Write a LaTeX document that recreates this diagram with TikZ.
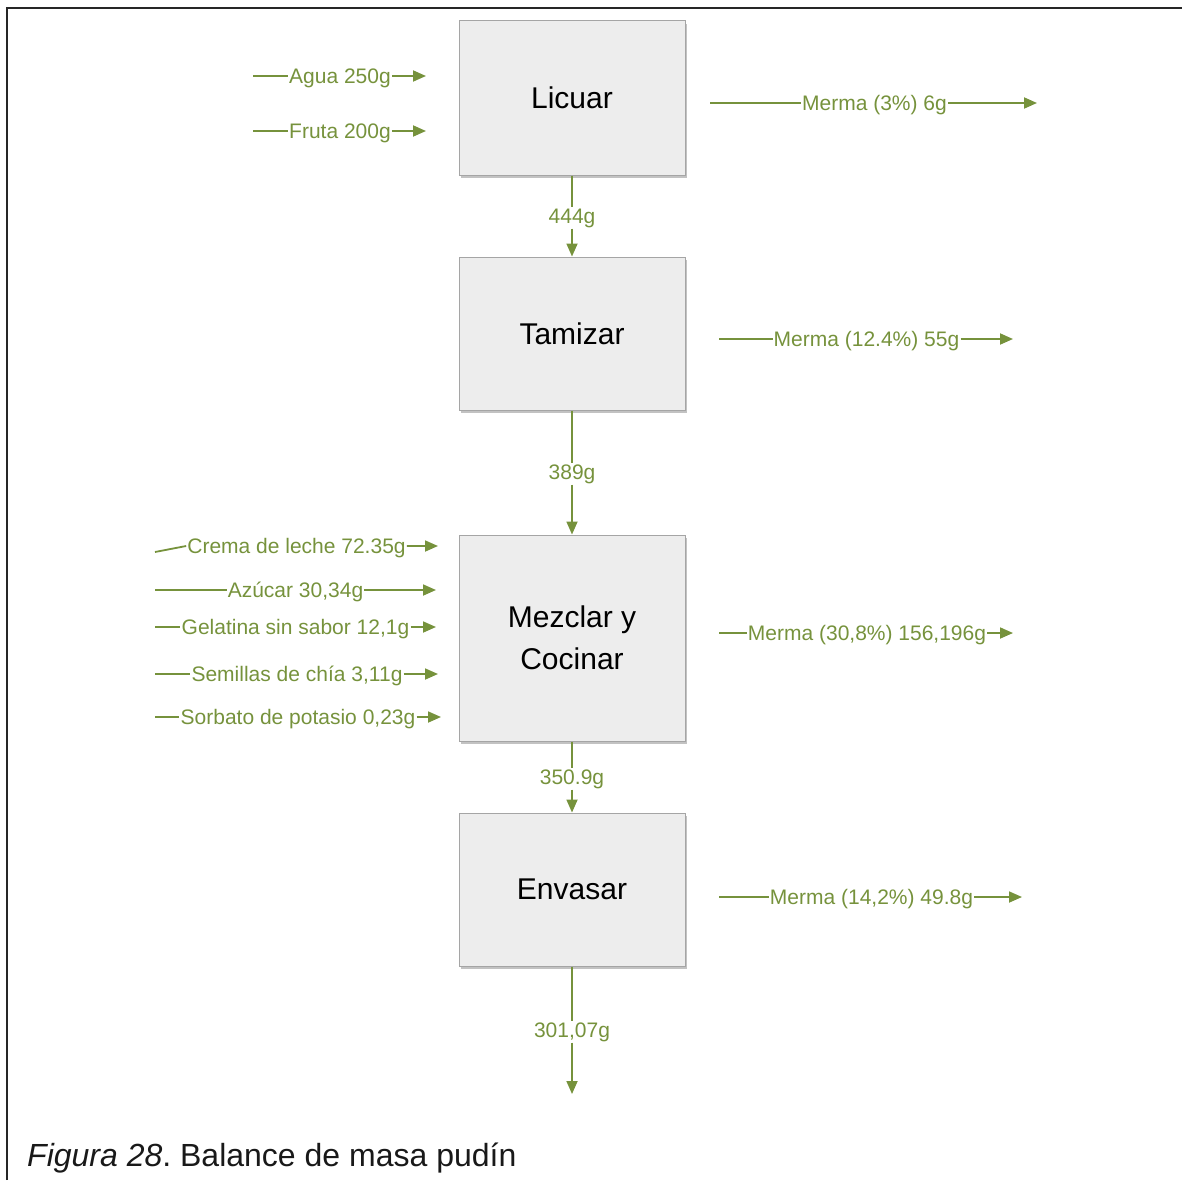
\documentclass[tikz,border=0pt]{standalone}
\usepackage{fontspec}
\setmainfont{Liberation Sans}
\frenchspacing
\usetikzlibrary{arrows.meta,shadows}
\definecolor{flowgreen}{RGB}{118,146,60}
\definecolor{boxfill}{RGB}{237,237,237}
\definecolor{boxline}{RGB}{165,165,165}
\tikzset{
  stepbox/.style={draw=boxline, line width=1pt, fill=boxfill, minimum width=226pt,
    font=\fontsize{30}{42}\selectfont, align=center, inner sep=0pt,
    drop shadow={shadow xshift=1.5pt, shadow yshift=-3pt, fill=black!40, opacity=0.6}},
  flow/.style={draw=flowgreen, line width=1.8pt, -{Triangle[length=13pt,width=11pt]}},
  qty/.style={text=flowgreen, font=\fontsize{21}{24}\selectfont, inner sep=1pt}
}
\begin{document}
\begin{tikzpicture}[x=1pt,y=-1pt]
\useasboundingbox (0,0) rectangle (1182,1180);
% frame
\draw[line width=2pt, black!85] (7,1180) -- (7,8) -- (1182,8);

% process steps
\node[stepbox, minimum height=154pt] (licuar) at (572,98) {Licuar};
\node[stepbox, minimum height=153pt] (tamizar) at (572,333.5) {Tamizar};
\node[stepbox, minimum height=206pt] (mezclar) at (572,638) {Mezclar y\\Cocinar};
\node[stepbox, minimum height=153pt] (envasar) at (572,889.5) {Envasar};

% main flow between steps
\node[qty] (q1) at (572,218) {444g};
\node[qty] (q2) at (572,474) {389g};
\node[qty] (q3) at (572,779) {350.9g};
\node[qty] (q4) at (572,1032) {301,07g};
\coordinate (fin) at (572,1094);
\draw[flow] (licuar) -- (q1) -- (tamizar);
\draw[flow] (tamizar) -- (q2) -- (mezclar);
\draw[flow] (mezclar) -- (q3) -- (envasar);
\draw[flow] (envasar) -- (q4) -- (fin);

% inputs to Licuar
\coordinate (a0) at (253,76);  \node[qty] (a) at (340,78) {Agua 250g};   \coordinate (a1) at (426,76);
\coordinate (f0) at (253,131); \node[qty] (f) at (340,133) {Fruta 200g}; \coordinate (f1) at (426,131);
\draw[flow] (a0) -- (a.west |- a0) (a.east |- a1) -- (a1);
\draw[flow] (f0) -- (f.west |- f0) (f.east |- f1) -- (f1);

% inputs to Mezclar y Cocinar
\coordinate (c0) at (155,552); \node[qty] (c) at (296.5,548) {Crema de leche 72.35g};   \coordinate (c1) at (438,546);
\coordinate (z0) at (155,590); \node[qty] (z) at (295.5,592) {Azúcar 30,34g};           \coordinate (z1) at (436,590);
\coordinate (g0) at (155,627); \node[qty] (g) at (295.5,629) {Gelatina sin sabor 12,1g}; \coordinate (g1) at (436,627);
\coordinate (s0) at (155,674); \node[qty] (s) at (297,676) {Semillas de chía 3,11g};    \coordinate (s1) at (438,674);
\coordinate (p0) at (155,717); \node[qty] (p) at (298,719) {Sorbato de potasio 0,23g};  \coordinate (p1) at (441,717);
\draw[flow] (c0) -- (c.west |- c1) (c.east |- c1) -- (c1);
\draw[flow] (z0) -- (z.west |- z0) (z.east |- z1) -- (z1);
\draw[flow] (g0) -- (g.west |- g0) (g.east |- g1) -- (g1);
\draw[flow] (s0) -- (s.west |- s0) (s.east |- s1) -- (s1);
\draw[flow] (p0) -- (p.west |- p0) (p.east |- p1) -- (p1);

% losses
\coordinate (m10) at (710,103); \node[qty] (m1) at (874.5,105) {Merma (3\%) 6g};          \coordinate (m11) at (1037,103);
\coordinate (m20) at (719,339); \node[qty] (m2) at (866.5,341) {Merma (12.4\%) 55g};      \coordinate (m21) at (1013,339);
\coordinate (m30) at (719,633); \node[qty] (m3) at (867,635) {Merma (30,8\%) 156,196g};   \coordinate (m31) at (1013,633);
\coordinate (m40) at (719,897); \node[qty] (m4) at (871.5,899) {Merma (14,2\%) 49.8g};    \coordinate (m41) at (1022,897);
\draw[flow] (m10) -- (m1.west |- m10) (m1.east |- m11) -- (m11);
\draw[flow] (m20) -- (m2.west |- m20) (m2.east |- m21) -- (m21);
\draw[flow] (m30) -- (m3.west |- m30) (m3.east |- m31) -- (m31);
\draw[flow] (m40) -- (m4.west |- m40) (m4.east |- m41) -- (m41);

% caption
\node[anchor=base west, inner sep=0pt, font=\fontsize{32}{36}\selectfont, text=black!90] (cap) at (27,1166)
  {\textit{Figura 28}. Balance de masa pudín};
\end{tikzpicture}
\end{document}
